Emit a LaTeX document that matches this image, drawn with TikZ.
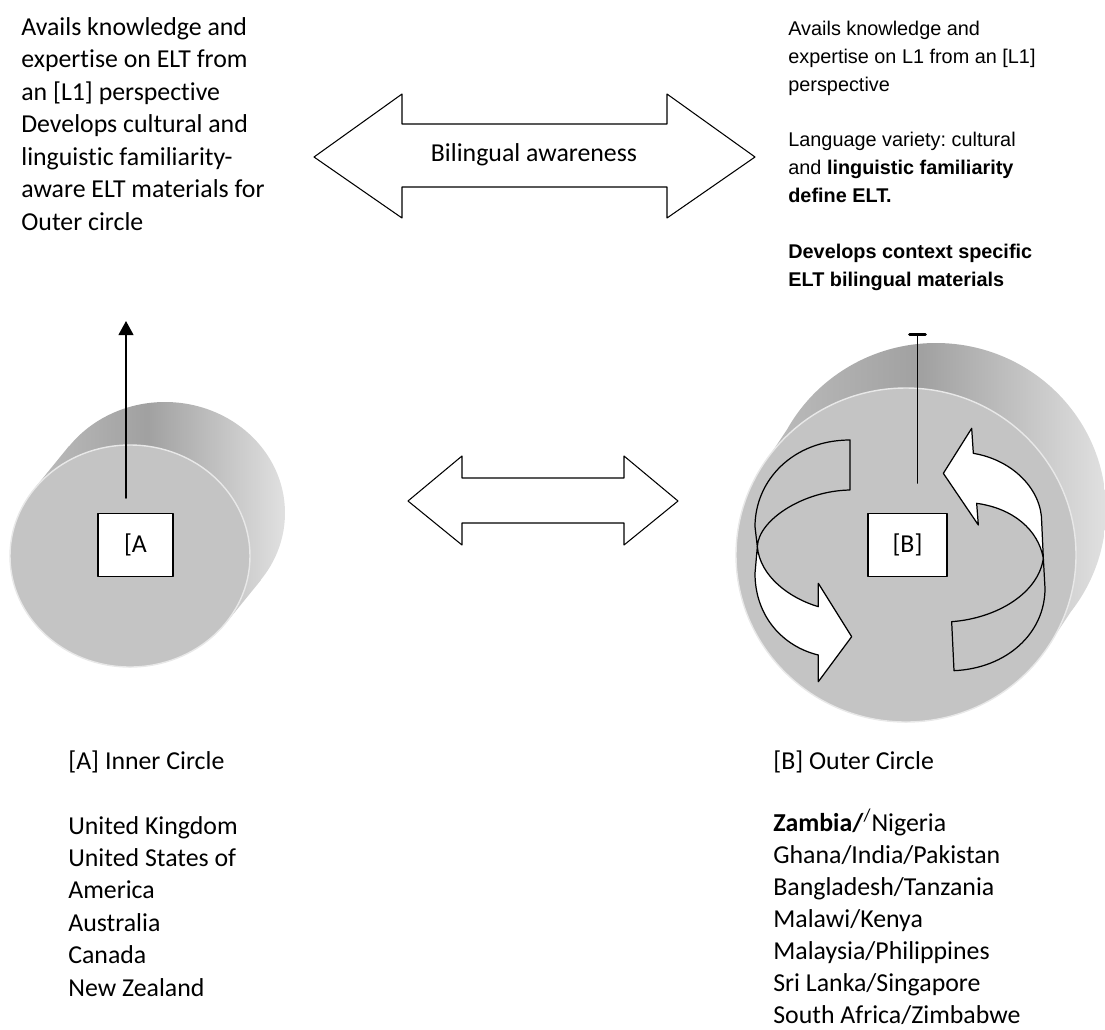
\documentclass[tikz,border=0pt]{standalone}
\usepackage{fontspec}
\setmainfont{Carlito}[Ligatures=NoCommon]
\newfontfamily\arialfont{Liberation Sans}
\usetikzlibrary{arrows.meta,calc,shadings}
\definecolor{face}{HTML}{C4C4C4}
\frenchspacing

\begin{document}
\begin{tikzpicture}[x=0.02cm, y=-0.02cm, line join=round, line cap=round,
    txt/.style={inner sep=0, anchor=base west, font=\fontsize{14.7}{18.3}\selectfont},
    arl/.style={inner sep=0, anchor=base west, font=\arialfont\fontsize{11.3}{16}\selectfont},
    box/.style={draw, line width=0.7pt, fill=white, inner sep=0, minimum height=1.26cm, font=\fontsize{14.7}{18.3}\selectfont},
    fat/.style={draw, line width=0.6pt, fill=white},
    side/.style={left color=black!24, right color=black!12, middle color=black!37},
    rim/.style={fill=face, draw=black!9, line width=0.8pt}]
    \useasboundingbox (0,0) rectangle (1105,1029);
    % top texts
    \foreach \t [count=\i from 0] in {Avails knowledge and, expertise on ELT from, an [L1] perspective,
        Develops cultural and, linguistic familiarity-, aware ELT materials for, Outer circle}
        \node[txt] (tl\i) at (21,35+32.5*\i) {\t};
    \foreach \y/\t [count=\i] in {35/Avails knowledge and, 63/expertise on L1 from an [L1], 91.5/perspective,
        146.5/Language variety: cultural, 174.5/and \textbf{linguistic familiarity}, 202.5/\textbf{define ELT.},
        258/\textbf{Develops context specific}, 286/\textbf{ELT bilingual materials}}
        \node[arl] (tr\i) at (788,\y) {\t};
    % double arrows
    \draw[fat] (314,157) -- (402,94) -- (402,124) -- (667,124) -- (667,94) -- (755,157)
        -- (667,218) -- (667,187) -- (402,187) -- (402,218) -- cycle;
    \node[txt, anchor=center] (aware) at (534,155) {Bilingual awareness};
    \draw[fat] (408,501) -- (462,456) -- (462,478) -- (624,478) -- (624,456) -- (678,501)
        -- (624,545) -- (624,523) -- (462,523) -- (462,545) -- cycle;
    % inner circle
    \coordinate (cA) at (130,556);
    \shade[side] (cA) ellipse [x radius=120, y radius=111]
        ($(cA)+(35,-43)$) ellipse [x radius=120, y radius=111]
        ($(cA)+(96,67)$) -- ($(cA)+(-96,-67)$) -- ($(cA)+(-61,-110)$) -- ($(cA)+(131,24)$) -- cycle;
    \filldraw[rim] (cA) ellipse [x radius=120, y radius=111];
    % outer circle
    \coordinate (cB) at (906,555);
    \shade[side] (cB) ellipse [x radius=170, y radius=167]
        ($(cB)+(30,-45)$) ellipse [x radius=170, y radius=167]
        ($(cB)+(142,91)$) -- ($(cB)+(-142,-91)$) -- ($(cB)+(-112,-136)$) -- ($(cB)+(172,46)$) -- cycle;
    \filldraw[rim] (cB) ellipse [x radius=170, y radius=167];
    % turning arrows on B
    \begin{scope}[shift={(730,340)}, scale=1/3, line width=0.7pt]
        \draw[fill=face] (360,300) .. controls (190,300) and (75,420) .. (75,560) -- (82,620)
            .. controls (85,540) and (220,452) .. (360,450) -- cycle;
        \draw[fill=white] (82,620) .. controls (90,710) and (180,775) .. (265,800) -- (265,730)
            -- (365,890) -- (265,1025) -- (265,945) .. controls (160,920) and (75,830) .. (75,700) -- cycle;
        \draw[fill=face] (665,845) .. controls (800,835) and (925,760) .. (940,655) -- (945,745)
            .. controls (945,880) and (830,985) .. (672,992) -- cycle;
        \draw[fill=white] (730,340) .. controls (850,360) and (935,450) .. (935,545) -- (940,655)
            .. controls (925,570) and (850,505) .. (740,490) -- (745,555) -- (640,400) -- (725,265) -- cycle;
    \end{scope}
    % boxes and arrows
    \node[box, minimum width=1.5cm] (boxA) at (135.5,545) {[A};
    \node[box, minimum width=1.58cm] (boxB) at (907.5,545) {[B]};
    \coordinate (footA) at (126,498);
    \coordinate (tipA) at (126,321);
    \draw[line width=0.85pt, -{Triangle[width=8.5pt,length=8pt]}] (footA) -- (tipA);
    \coordinate (footB) at (917.5,483);
    \coordinate (tipB) at (917.5,333);
    \draw[line width=0.85pt, -{Bar[width=9pt,line width=1.6pt,round]}] (footB) -- (tipB);
    % bottom texts
    \node[txt] (labA) at (68,769) {[A] Inner Circle};
    \foreach \t [count=\i from 0] in {United Kingdom, United States of, America, Australia, Canada, New Zealand}
        \node[txt] (ca\i) at (68,834+32.4*\i) {\t};
    \node[txt] (labB) at (773,769) {[B] Outer Circle};
    \foreach \t [count=\i from 0] in {\textbf{Zambia/}\textsuperscript{/}Nigeria, Ghana/India/Pakistan,
        Bangladesh/Tanzania, Malawi/Kenya, Malaysia/Philippines, Sri Lanka/Singapore, South Africa/Zimbabwe}
        \node[txt] (cb\i) at (773,831+32.1*\i) {\t};
\end{tikzpicture}
\end{document}
